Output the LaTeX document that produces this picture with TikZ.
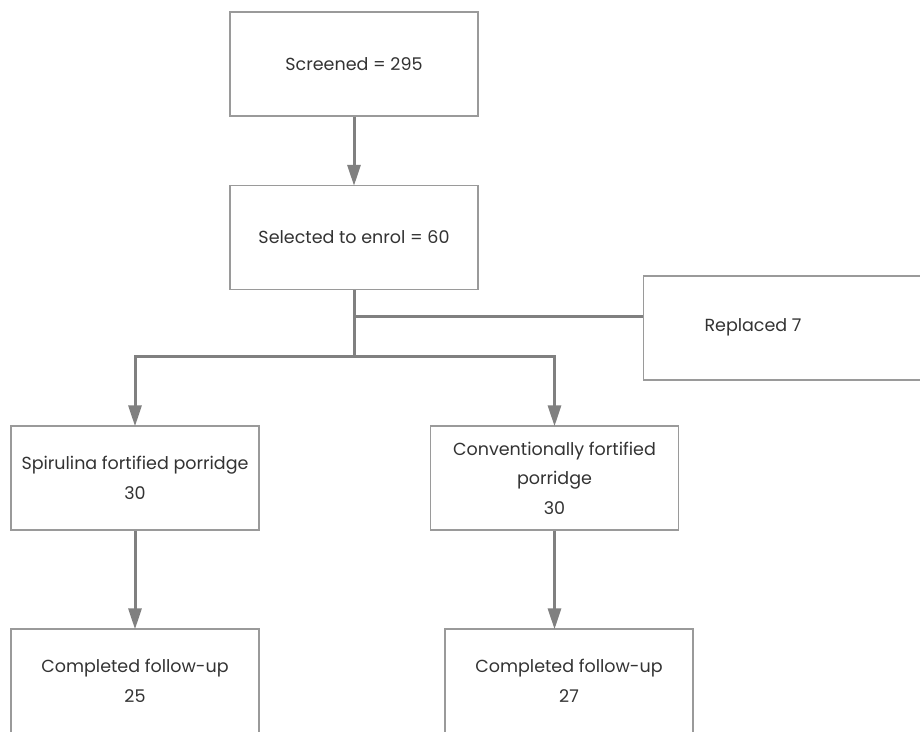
\documentclass[tikz,border=0pt]{standalone}
\usepackage{fontspec}
\setmainfont{Poppins}
\usetikzlibrary{arrows.meta}
\definecolor{boxline}{HTML}{9A9A9A}
\definecolor{conn}{HTML}{808080}
\definecolor{txt}{HTML}{333333}
\tikzset{
  stagebox/.style={draw=boxline, line width=1.4pt, rectangle, minimum width=248pt, minimum height=104pt,
    align=center, text=txt, font=\fontsize{17.5pt}{29.5pt}\selectfont, inner sep=0pt},
  link/.style={draw=conn, line width=3pt},
  arrowlink/.style={link, -{Triangle[length=21pt,width=13pt]}, shorten >=-1pt},
}
\begin{document}
\begin{tikzpicture}[x=1pt,y=-1pt]
\useasboundingbox (0,0) rectangle (920,731);
\clip (0,0) rectangle (920,731);
\fill[white] (0,0) rectangle (920,731);
\node[stagebox] (scr) at (354,64) {Screened = 295};
\node[stagebox] (sel) at (354,237.5) {Selected to enrol = 60};
\node[stagebox, minimum width=290pt, anchor=west] (rep) at (643,328) {};
\node[text=txt, font=\fontsize{17.5pt}{29.5pt}\selectfont] (reptxt) at (753,327) {Replaced 7};
\node[stagebox] (spi) at (135,478) {Spirulina fortified porridge\\30};
\node[stagebox] (con) at (554.5,478) {Conventionally fortified\\porridge\\30};
\node[stagebox] (cf1) at (135,681) {Completed follow-up\\25};
\node[stagebox] (cf2) at (569,681) {Completed follow-up\\27};
\coordinate (br) at (354,316);
\coordinate (split) at (354,356);
\draw[arrowlink] (scr.south) -- (sel.north);
\draw[link] (sel.south) -- (split);
\draw[link] (br) -- (rep.west |- br);
\draw[arrowlink] (split) -| (spi.north);
\draw[arrowlink] (split) -| (con.north);
\draw[arrowlink] (spi.south) -- (cf1.north);
\draw[arrowlink] (con.south) -- (con.south |- cf2.north);
\end{tikzpicture}
\end{document}
